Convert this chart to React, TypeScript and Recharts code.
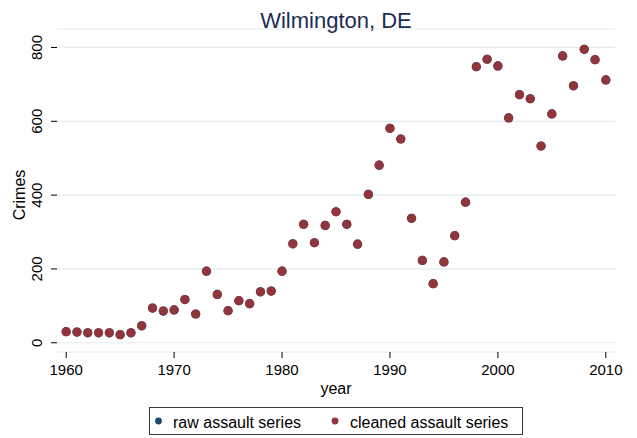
import React from 'react';
import { ScatterChart, Scatter, XAxis, YAxis, CartesianGrid } from 'recharts';

const years = [
  1960, 1961, 1962, 1963, 1964, 1965, 1966, 1967, 1968, 1969,
  1970, 1971, 1972, 1973, 1974, 1975, 1976, 1977, 1978, 1979,
  1980, 1981, 1982, 1983, 1984, 1985, 1986, 1987, 1988, 1989,
  1990, 1991, 1992, 1993, 1994, 1995, 1996, 1997, 1998, 1999,
  2000, 2001, 2002, 2003, 2004, 2005, 2006, 2007, 2008, 2009, 2010,
];

const rawAssault = [
  30, 29, 27, 27, 27, 22, 27, 46, 94, 86,
  89, 117, 78, 194, 131, 87, 114, 106, 138, 140,
  194, 268, 321, 271, 318, 355, 321, 267, 402, 481,
  581, 552, 337, 223, 160, 219, 290, 381, 748, 768,
  750, 609, 672, 661, 533, 620, 777, 696, 795, 767, 712,
];

const cleanedAssault = [
  30, 29, 27, 27, 27, 22, 27, 46, 94, 86,
  89, 117, 78, 194, 131, 87, 114, 106, 138, 140,
  194, 268, 321, 271, 318, 355, 321, 267, 402, 481,
  581, 552, 337, 223, 160, 219, 290, 381, 748, 768,
  750, 609, 672, 661, 533, 620, 777, 696, 795, 767, 712,
];

const xTicks = [1960, 1970, 1980, 1990, 2000, 2010];
const yTicks = [0, 200, 400, 600, 800];

const seriesNames = ['raw assault series', 'cleaned assault series'];
const titleText = 'Wilmington, DE';
const xTitle = 'year';
const yTitle = 'Crimes';

const BLUE = '#1a476f';
const MAROON = '#90353b';
const FONT = '"Liberation Sans", Arial, Helvetica, sans-serif';

const rawData = years.map((year, i) => ({ year, value: rawAssault[i] }));
const cleanedData = years.map((year, i) => ({ year, value: cleanedAssault[i] }));

const XTick = (props: any) => {
  const { x, payload } = props;
  return (
    <text x={x} y={375} textAnchor="middle" fontSize={15} fontFamily={FONT} fill="#000">
      {payload.value}
    </text>
  );
};

const YTick = (props: any) => {
  const { y, payload } = props;
  return (
    <text
      transform={`translate(42, ${y}) rotate(-90)`}
      x={0}
      y={0}
      textAnchor="middle"
      fontSize={15}
      fontFamily={FONT}
      fill="#000"
    >
      {payload.value}
    </text>
  );
};

const makeDot = (color: string) => (props: any) => {
  const { cx, cy } = props;
  if (cx == null || cy == null) return <g />;
  return <circle cx={cx} cy={cy} r={4.6} fill={color} />;
};

export default function App() {
  return (
    <div style={{ position: 'absolute', left: 0, top: 0, width: 637, height: 438, background: '#fff' }}>
      <ScatterChart width={637} height={438} margin={{ top: 29, right: 22, bottom: 46, left: 0 }}>
        <CartesianGrid horizontal={true} vertical={false} stroke="#e3ecee" strokeWidth={1.2} />
        <XAxis
          type="number"
          dataKey="year"
          domain={[1959.15, 2010.85]}
          ticks={xTicks}
          interval={0}
          allowDataOverflow
          axisLine={false}
          tickLine={{ stroke: '#000', strokeWidth: 1 }}
          tickSize={6}
          height={40}
          tick={XTick}
        />
        <YAxis
          type="number"
          dataKey="value"
          domain={[-25, 850]}
          ticks={yTicks}
          interval={0}
          allowDataOverflow
          axisLine={false}
          tickLine={{ stroke: '#000', strokeWidth: 1 }}
          tickSize={6}
          width={57}
          tick={YTick}
        />
        <Scatter name={seriesNames[0]} data={rawData} fill={BLUE} shape={makeDot(BLUE)} isAnimationActive={false} />
        <Scatter name={seriesNames[1]} data={cleanedData} fill={MAROON} shape={makeDot(MAROON)} isAnimationActive={false} />
      </ScatterChart>
      <svg
        width={637}
        height={438}
        style={{ position: 'absolute', left: 0, top: 0, pointerEvents: 'none' }}
      >
        <text x={336} y={28} textAnchor="middle" fontSize={22} fontFamily={FONT} fill="#1c2d52">
          {titleText}
        </text>
        <text
          transform="translate(25, 195) rotate(-90)"
          textAnchor="middle"
          fontSize={16}
          fontFamily={FONT}
          fill="#000"
        >
          {yTitle}
        </text>
        <text x={336} y={394} textAnchor="middle" fontSize={16} fontFamily={FONT} fill="#000">
          {xTitle}
        </text>
        <rect x={149.5} y={407.5} width={373} height={27} fill="#fff" stroke="#3a3a3a" strokeWidth={1} />
        <circle cx={158.5} cy={421} r={3.4} fill={BLUE} />
        <text x={173} y={427.5} fontSize={16} fontFamily={FONT} fill="#000">
          {seriesNames[0]}
        </text>
        <circle cx={335} cy={421} r={3.4} fill={MAROON} />
        <text x={350} y={427.5} fontSize={16} fontFamily={FONT} fill="#000">
          {seriesNames[1]}
        </text>
      </svg>
    </div>
  );
}
